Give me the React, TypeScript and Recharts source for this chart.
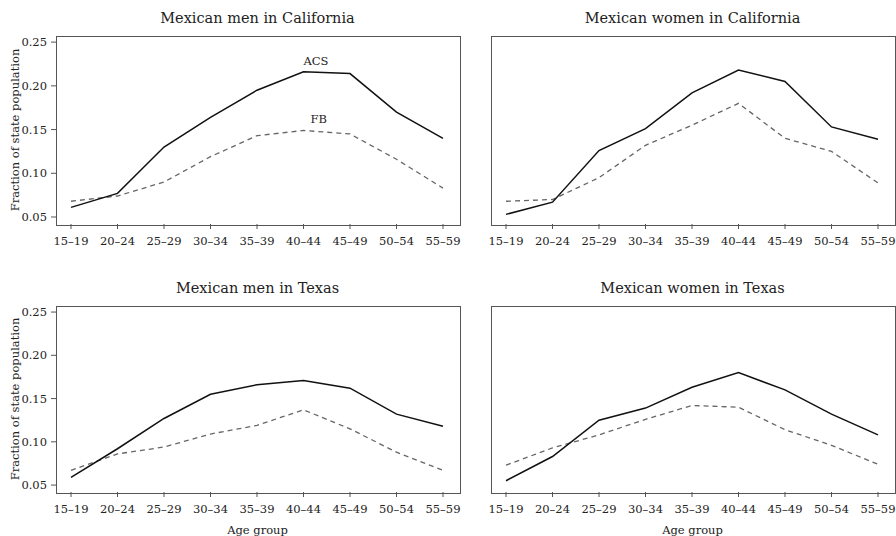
import { LineChart, Line, XAxis, YAxis, ReferenceDot } from 'recharts';

const AGE_GROUPS = ['15–19', '20–24', '25–29', '30–34', '35–39', '40–44', '45–49', '50–54', '55–59'];
const Y_TICKS = [0.05, 0.1, 0.15, 0.2, 0.25];

const CA_MEN_ACS = [0.061, 0.077, 0.13, 0.164, 0.195, 0.216, 0.214, 0.17, 0.14];
const CA_MEN_FB = [0.068, 0.074, 0.09, 0.119, 0.143, 0.149, 0.145, 0.116, 0.083];
const CA_WOMEN_ACS = [0.053, 0.067, 0.126, 0.151, 0.192, 0.218, 0.205, 0.153, 0.139];
const CA_WOMEN_FB = [0.068, 0.07, 0.095, 0.132, 0.155, 0.18, 0.14, 0.125, 0.089];
const TX_MEN_ACS = [0.059, 0.092, 0.127, 0.155, 0.166, 0.171, 0.162, 0.132, 0.118];
const TX_MEN_FB = [0.067, 0.086, 0.094, 0.109, 0.119, 0.137, 0.115, 0.088, 0.067];
const TX_WOMEN_ACS = [0.055, 0.083, 0.125, 0.139, 0.163, 0.18, 0.16, 0.132, 0.108];
const TX_WOMEN_FB = [0.073, 0.093, 0.108, 0.126, 0.142, 0.14, 0.114, 0.096, 0.074];

const FONT = '"DejaVu Serif", serif';
const INK = '#222';
const FRAME = '#555';

function buildRows(acs: number[], fb: number[]) {
  return AGE_GROUPS.map((age, i) => ({ age, acs: acs[i], fb: fb[i] }));
}

interface PanelProps {
  title: string;
  acs: number[];
  fb: number[];
  left: number;
  top: number;
  showY: boolean;
  showXLabel: boolean;
  annotate?: boolean;
  marginTop: number;
}

function Panel({ title, acs, fb, left, top, showY, showXLabel, annotate, marginTop }: PanelProps) {
  const data = buildRows(acs, fb);
  const width = showY ? 470 : 450;
  const height = 268;
  const yWidth = showY ? 56 : 45;
  const plotH = 188 - (marginTop - 36);
  const xHeight = height - marginTop - plotH;
  const plotW = 403;
  const rightMargin = width - yWidth - plotW;
  const tick = { fontSize: 11.5, fill: INK, fontFamily: FONT };

  return (
    <div style={{ position: 'absolute', left, top, width, height }}>
      <div
        style={{
          position: 'absolute',
          left: yWidth,
          width: plotW,
          top: marginTop - 26,
          textAlign: 'center',
          fontFamily: FONT,
          fontSize: 14.5,
          color: INK,
        }}
      >
        {title}
      </div>
      {/* plot frame */}
      <div
        style={{
          position: 'absolute',
          left: yWidth - 0.5,
          top: marginTop - 0.5,
          width: plotW,
          height: plotH,
          border: `1px solid ${FRAME}`,
          pointerEvents: 'none',
        }}
      />
      <LineChart
        width={width}
        height={height}
        data={data}
        margin={{ top: marginTop, right: rightMargin, bottom: 0, left: 0 }}
      >
        <XAxis
          dataKey="age"
          padding={{ left: 15, right: 16 }}
          height={xHeight}
          tick={tick}
          tickSize={5}
          tickMargin={8}
          interval={0}
          stroke={FRAME}
          axisLine={false}
          label={
            showXLabel
              ? { value: 'Age group', position: 'insideBottom', offset: 2, fill: INK, fontSize: 11.5, fontFamily: FONT }
              : undefined
          }
        />
        <YAxis
          domain={[0.042, 0.257]}
          ticks={Y_TICKS}
          width={yWidth}
          tick={showY ? tick : false}
          tickLine={showY}
          tickSize={5}
          tickMargin={4}
          tickFormatter={(v: number) => v.toFixed(2)}
          stroke={FRAME}
          axisLine={false}
          label={
            showY
              ? {
                  value: 'Fraction of state population',
                  angle: -90,
                  position: 'insideLeft',
                  offset: 15,
                  style: { textAnchor: 'middle' },
                  fill: INK,
                  fontSize: 11.5,
                  fontFamily: FONT,
                }
              : undefined
          }
        />
        <Line
          type="linear"
          dataKey="fb"
          stroke="#666"
          strokeWidth={1.3}
          strokeDasharray="5 4"
          dot={false}
          isAnimationActive={false}
        />
        <Line type="linear" dataKey="acs" stroke="#111" strokeWidth={1.5} dot={false} isAnimationActive={false} />
        {annotate && (
          <ReferenceDot
            x="40–44"
            y={0.228}
            r={0}
            stroke="none"
            label={{ value: 'ACS', position: 'right', offset: 0, fill: INK, fontSize: 11.5, fontFamily: FONT }}
          />
        )}
        {annotate && (
          <ReferenceDot
            x="40–44"
            y={0.1626}
            r={0}
            stroke="none"
            label={{ value: 'FB', position: 'right', offset: 7, fill: INK, fontSize: 11.5, fontFamily: FONT }}
          />
        )}
      </LineChart>
    </div>
  );
}

export default function App() {
  return (
    <div style={{ position: 'absolute', left: 0, top: 0, width: 896, height: 536, background: '#fff' }}>
      <Panel title="Mexican men in California" acs={CA_MEN_ACS} fb={CA_MEN_FB} left={0} top={0} showY showXLabel={false} annotate marginTop={36} />
      <Panel title="Mexican women in California" acs={CA_WOMEN_ACS} fb={CA_WOMEN_FB} left={446} top={0} showY={false} showXLabel={false} marginTop={36} />
      <Panel title="Mexican men in Texas" acs={TX_MEN_ACS} fb={TX_MEN_FB} left={0} top={268} showY showXLabel marginTop={38} />
      <Panel title="Mexican women in Texas" acs={TX_WOMEN_ACS} fb={TX_WOMEN_FB} left={446} top={268} showY={false} showXLabel marginTop={38} />
    </div>
  );
}
